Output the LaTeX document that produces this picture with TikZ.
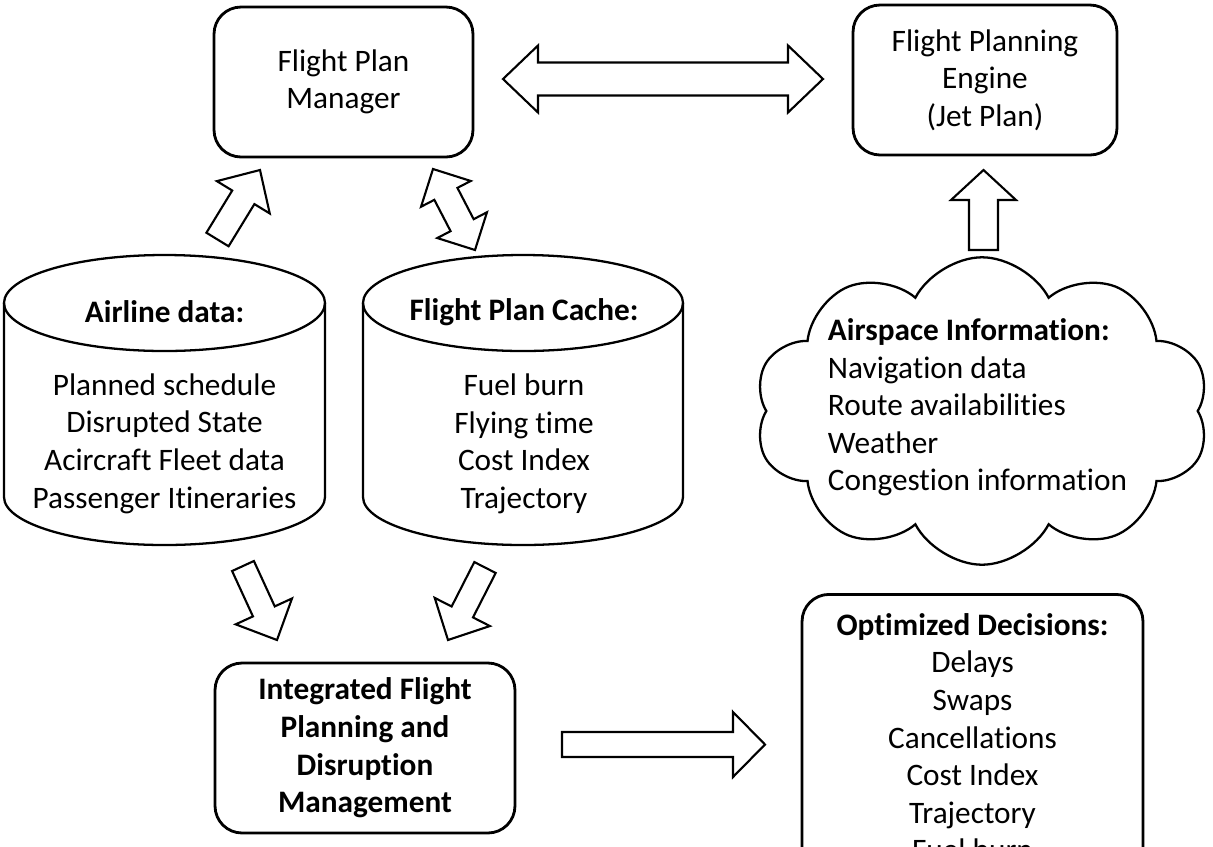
\documentclass[tikz,border=0pt]{standalone}
\usepackage{fontspec}
\setmainfont{Carlito}[Ligatures=NoCommon]
\usetikzlibrary{calc, shapes.symbols}

\tikzset{
  txt/.style={font=\fontsize{17.8}{21.4}\selectfont},
  txtb/.style={font=\fontsize{17.8}{21.4}\selectfont\bfseries},
  box/.style={draw, line width=1.6pt, rounded corners=0.54cm, align=center, txt},
  dbline/.style={line width=1.3pt},
  blockarrow/.style={draw, line width=1.2pt, fill=white, line join=miter}
}

% tail, tip, shaft half width, head half width, head length
\newcommand{\fatarrow}[5]{%
  \coordinate (hb) at ($(#2)!#5!(#1)$);
  \draw[blockarrow] ($(#1)!#3!90:(#2)$) -- ($(hb)!#3!90:(#2)$) -- ($(hb)!#4!90:(#2)$) -- (#2)
    -- ($(hb)!#4!-90:(#2)$) -- ($(hb)!#3!-90:(#2)$) -- ($(#1)!#3!-90:(#2)$) -- cycle;
}
\newcommand{\fatdarrow}[5]{%
  \coordinate (hb1) at ($(#1)!#5!(#2)$);
  \coordinate (hb2) at ($(#2)!#5!(#1)$);
  \draw[blockarrow] (#1) -- ($(hb1)!#4!90:(#2)$) -- ($(hb1)!#3!90:(#2)$) -- ($(hb2)!#3!90:(#2)$)
    -- ($(hb2)!#4!90:(#2)$) -- (#2) -- ($(hb2)!#4!-90:(#2)$) -- ($(hb2)!#3!-90:(#2)$)
    -- ($(hb1)!#3!-90:(#2)$) -- ($(hb1)!#4!-90:(#2)$) -- cycle;
}

\begin{document}
\begin{tikzpicture}[x=0.02cm, y=0.02cm]
\useasboundingbox (0,0) rectangle (1213,-846);
\clip (0,0) rectangle (1213,-846);

\node[box, minimum width=5.18cm, minimum height=3cm] (mgr) at (343.5,-82) {Flight Plan\\Manager};
\node[box, minimum width=5.28cm, minimum height=3cm] (eng) at (985,-80) {Flight Planning\\Engine\\(Jet Plan)};
\node[box, txtb, minimum width=6cm, minimum height=3.4cm] (ifp) at (365,-748) {Integrated Flight\\Planning and\\Disruption\\Management};
\node[box, anchor=north, minimum width=6.82cm, inner ysep=0.38cm] (opt) at (972.5,-593) {\textbf{Optimized Decisions:}\\Delays\\Swaps\\Cancellations\\Cost Index\\Trajectory\\Fuel burn};

% airline data
\draw[dbline] (4,-303) -- (4,-497) arc[start angle=180, end angle=360, x radius=160.5, y radius=48] -- (325,-303);
\draw[dbline] (164.5,-303) ellipse [x radius=160.5, y radius=48];
\node[txtb] (airhd) at (164.5,-312) {Airline data:};
\node[txt, align=center] (airbd) at (164.5,-443.5) {Planned schedule\\Disrupted State\\Acircraft Fleet data\\Passenger Itineraries};

% cache
\draw[dbline] (363,-303) -- (363,-497) arc[start angle=180, end angle=360, x radius=160, y radius=48] -- (683,-303);
\draw[dbline] (523,-303) ellipse [x radius=160, y radius=48];
\node[txtb] (fpchd) at (524,-312) {Flight Plan Cache:};
\node[txt, align=center] (fpcbd) at (524,-444) {Fuel burn\\Flying time\\Cost Index\\Trajectory};

\node[cloud, draw, line width=1.3pt, cloud puffs=10, cloud puff arc=125, cloud ignores aspect,
  minimum width=9.1cm, minimum height=6.15cm, inner sep=0pt] (cld) at (982,-411) {};
\node[txt, align=left] (airsp) at (977.5,-407.5) {\textbf{Airspace Information:}\\Navigation data\\Route availabilities\\Weather\\Congestion information};

\coordinate (a1t) at (217.5,-239.5);
\coordinate (a1h) at (260,-170);
\coordinate (a2t) at (433,-169);
\coordinate (a2h) at (475,-250);
\coordinate (a3t) at (243,-566);
\coordinate (a3h) at (277,-640);
\coordinate (a4t) at (485,-567.5);
\coordinate (a4h) at (448,-640);
\coordinate (a5t) at (562,-744.5);
\coordinate (a5h) at (765,-744.5);
\coordinate (a6t) at (983.5,-250);
\coordinate (a6h) at (983.5,-170);
\coordinate (a7t) at (503,-79);
\coordinate (a7h) at (823,-79);

\fatarrow{a1t}{a1h}{0.26cm}{0.62cm}{0.64cm}
\fatdarrow{a2t}{a2h}{0.26cm}{0.56cm}{0.56cm}
\fatarrow{a3t}{a3h}{0.24cm}{0.62cm}{0.63cm}
\fatarrow{a4t}{a4h}{0.24cm}{0.62cm}{0.63cm}
\fatarrow{a5t}{a5h}{0.25cm}{0.65cm}{0.64cm}
\fatarrow{a6t}{a6h}{0.29cm}{0.65cm}{0.6cm}
\fatdarrow{a7t}{a7h}{0.33cm}{0.67cm}{0.7cm}
\end{tikzpicture}
\end{document}
